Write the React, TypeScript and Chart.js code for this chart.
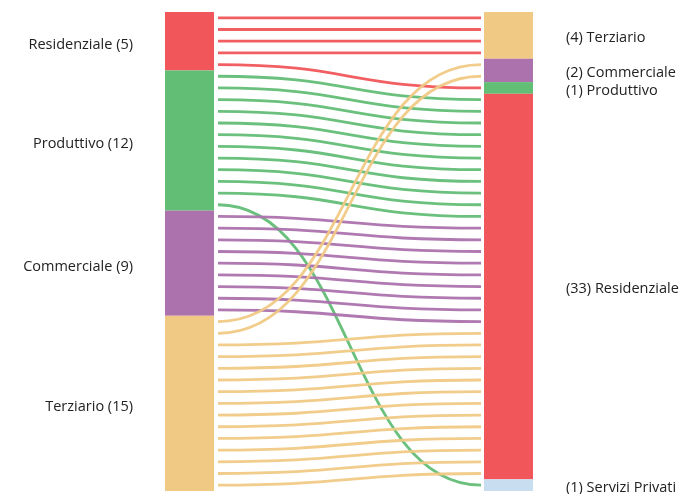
import React, { useEffect, useRef } from "react";
import { Chart, registerables } from "chart.js";

Chart.register(...registerables);

const leftNodes = ["Residenziale", "Produttivo", "Commerciale", "Terziario"];
const rightNodes = ["Terziario", "Commerciale", "Produttivo", "Residenziale", "Servizi Privati"];

const flowSources = ["Residenziale", "Residenziale", "Produttivo", "Produttivo", "Commerciale", "Terziario", "Terziario"];
const flowTargets = ["Terziario", "Produttivo", "Residenziale", "Servizi Privati", "Residenziale", "Commerciale", "Residenziale"];
const flowCounts = [4, 1, 11, 1, 9, 2, 13];

const nodeColors: Record<string, string> = {
  Residenziale: "#f0565a",
  Produttivo: "#62bd75",
  Commerciale: "#ac72ad",
  Terziario: "#f0c985",
  "Servizi Privati": "#c9ddf0",
};

export default function App() {
  const ref = useRef<HTMLCanvasElement | null>(null);

  useEffect(() => {
    if (!ref.current) return;

    const sum = (names: string[], side: "src" | "tgt") =>
      names.map((n) =>
        flowCounts.reduce(
          (acc, c, i) => acc + ((side === "src" ? flowSources[i] : flowTargets[i]) === n ? c : 0),
          0
        )
      );
    const leftCounts = sum(leftNodes, "src");
    const rightCounts = sum(rightNodes, "tgt");
    const total = leftCounts.reduce((a, b) => a + b, 0);

    const sankeyPlugin = {
      id: "sankeyUnits",
      afterDatasetsDraw(chart: any) {
        const ctx: CanvasRenderingContext2D = chart.ctx;
        const xs = chart.scales.x;
        const ys = chart.scales.y;
        const nodeW = 49;
        const xL0 = xs.getPixelForValue(0);
        const xR1 = xs.getPixelForValue(1);
        const xL1 = xL0 + nodeW;
        const xR0 = xR1 - nodeW;

        const leftStart: Record<string, number> = {};
        const rightStart: Record<string, number> = {};
        let acc = 0;
        leftNodes.forEach((n, i) => {
          leftStart[n] = acc;
          acc += leftCounts[i];
        });
        acc = 0;
        rightNodes.forEach((n, i) => {
          rightStart[n] = acc;
          acc += rightCounts[i];
        });

        ctx.save();
        leftNodes.forEach((n, i) => {
          const y0 = ys.getPixelForValue(leftStart[n]);
          const y1 = ys.getPixelForValue(leftStart[n] + leftCounts[i]);
          ctx.fillStyle = nodeColors[n];
          ctx.fillRect(xL0, y0, nodeW, y1 - y0);
        });
        rightNodes.forEach((n, i) => {
          const y0 = ys.getPixelForValue(rightStart[n]);
          const y1 = ys.getPixelForValue(rightStart[n] + rightCounts[i]);
          ctx.fillStyle = nodeColors[n];
          ctx.fillRect(xR0, y0, nodeW, y1 - y0);
        });

        const lUsed: Record<string, number> = {};
        const rUsed: Record<string, number> = {};
        const sx = xL1 + 4;
        const ex = xR0 - 3;
        const mx = (sx + ex) / 2;
        ctx.lineWidth = 2.8;
        ctx.lineCap = "butt";
        flowCounts.forEach((c, i) => {
          const s = flowSources[i];
          const t = flowTargets[i];
          for (let k = 0; k < c; k++) {
            const lu = lUsed[s] ?? 0;
            const ru = rUsed[t] ?? 0;
            const y0 = ys.getPixelForValue(leftStart[s] + lu + 0.5);
            const y1 = ys.getPixelForValue(rightStart[t] + ru + 0.5);
            lUsed[s] = lu + 1;
            rUsed[t] = ru + 1;
            ctx.strokeStyle = nodeColors[s];
            ctx.globalAlpha = 0.95;
            ctx.beginPath();
            ctx.moveTo(sx, y0);
            ctx.bezierCurveTo(mx, y0, mx, y1, ex, y1);
            ctx.stroke();
          }
        });
        ctx.globalAlpha = 1;

        ctx.font = "14.5px 'Open Sans'";
        ctx.fillStyle = "#222222";
        ctx.textBaseline = "middle";
        ctx.textAlign = "right";
        leftNodes.forEach((n, i) => {
          const yc = ys.getPixelForValue(leftStart[n] + leftCounts[i] / 2);
          ctx.fillText(`${n} (${leftCounts[i]})`, xL0 - 32, yc + 3.5);
        });
        ctx.textAlign = "left";
        rightNodes.forEach((n, i) => {
          const yc = ys.getPixelForValue(rightStart[n] + rightCounts[i] / 2);
          ctx.fillText(`(${rightCounts[i]}) ${n}`, xR1 + 33, yc + 2.5);
        });
        ctx.restore();
      },
    };

    const chart = new Chart(ref.current, {
      type: "scatter",
      data: { datasets: [{ data: [] }] },
      options: {
        animation: false,
        responsive: true,
        maintainAspectRatio: false,
        layout: { padding: { left: 165, right: 154, top: 12, bottom: 3 } },
        plugins: { legend: { display: false }, tooltip: { enabled: false } },
        scales: {
          x: { type: "linear", min: 0, max: 1, display: false },
          y: { type: "linear", min: 0, max: total, reverse: true, display: false },
        },
      },
      plugins: [sankeyPlugin],
    });
    return () => chart.destroy();
  }, []);

  return (
    <div style={{ position: "fixed", left: 0, top: 0, width: 687, height: 494 }}>
      <canvas ref={ref} />
    </div>
  );
}
